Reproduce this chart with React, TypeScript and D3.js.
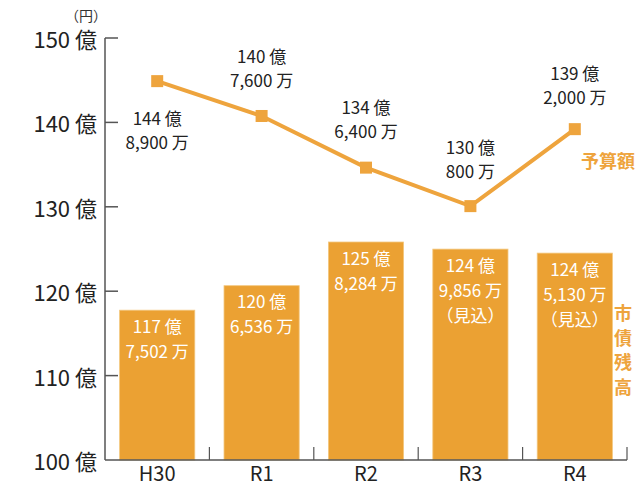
import React from 'react';
import * as d3 from 'd3';

// 年度
const categories = ['H30', 'R1', 'R2', 'R3', 'R4'];
// 市債残高（億円）
const debtValues = [117.7502, 120.6536, 125.8284, 124.9856, 124.513];
const debtLabels = [
  ['117 億', '7,502 万'],
  ['120 億', '6,536 万'],
  ['125 億', '8,284 万'],
  ['124 億', '9,856 万', '（見込）'],
  ['124 億', '5,130 万', '（見込）'],
];
// 予算額（億円）
const budgetValues = [144.89, 140.76, 134.64, 130.08, 139.2];
const budgetLabels = [
  ['144 億', '8,900 万'],
  ['140 億', '7,600 万'],
  ['134 億', '6,400 万'],
  ['130 億', '800 万'],
  ['139 億', '2,000 万'],
];
const yTicks = [100, 110, 120, 130, 140, 150];

const W = 640;
const H = 486;
const ORANGE = '#EBA133';
const LINE = '#EEA43D';
const AXIS = '#555';
const FONT = '"Noto Sans CJK JP", "Noto Sans", sans-serif';

export default function App() {
  const x = d3.scaleBand<string>().domain(categories).range([105, 627]).paddingInner(0.28).paddingOuter(0.14);
  const y = d3.scaleLinear().domain([100, 150]).range([460, 38]);
  const cx = (c: string) => (x(c) ?? 0) + x.bandwidth() / 2;

  const line = d3
    .line<number>()
    .x((_, i) => cx(categories[i]))
    .y(d => y(d));

  // vertical offset of the first budget label line from its point
  const labelShift = [36, -60, -61, -60, -57];
  const bounds = d3.range(1, categories.length).map(i => 105 + (522 / categories.length) * i);

  return (
    <div style={{ position: 'absolute', left: 0, top: 0 }}>
      <svg width={W} height={H} style={{ display: 'block', background: '#fff', fontFamily: FONT }}>
        {/* bars */}
        {categories.map((c, i) => (
          <rect
            key={c}
            x={x(c)}
            y={y(debtValues[i])}
            width={x.bandwidth()}
            height={y(100) - y(debtValues[i])}
            fill={ORANGE}
            stroke="#F3C77E"
            strokeWidth={0.8}
          />
        ))}
        {categories.map((c, i) =>
          debtLabels[i].map((t, j) => (
            <text
              key={c + j}
              x={cx(c)}
              y={y(debtValues[i]) + 15 + j * 25}
              fill="#fff"
              fontSize={17}
              textAnchor="middle"
              dominantBaseline="central"
            >
              {t}
            </text>
          ))
        )}

        {/* axes */}
        <line x1={105} x2={105} y1={y(150)} y2={y(100)} stroke={AXIS} strokeWidth={1.5} />
        <line x1={105} x2={627} y1={y(100)} y2={y(100)} stroke={AXIS} strokeWidth={1.5} />
        {yTicks.map(t => (
          <g key={t}>
            {t > 100 && <line x1={105} x2={118} y1={y(t)} y2={y(t)} stroke={AXIS} strokeWidth={1.5} />}
            <text x={97} y={y(t)} fontSize={22} fill="#222" textAnchor="end" dominantBaseline="central">
              {t} 億
            </text>
          </g>
        ))}
        {bounds.map(b => (
          <line key={b} x1={b} x2={b} y1={y(100)} y2={y(100) - 13} stroke={AXIS} strokeWidth={1.2} />
        ))}
        <line x1={627} x2={627} y1={y(100)} y2={y(100) - 13} stroke={AXIS} strokeWidth={1.2} />
        {categories.map(c => (
          <text key={c} x={cx(c)} y={472} fontSize={20} fill="#222" textAnchor="middle" dominantBaseline="central">
            {c}
          </text>
        ))}
        <text x={86} y={15} fontSize={14} fill="#333" textAnchor="middle" dominantBaseline="central">
          （円）
        </text>

        {/* budget line */}
        <path d={line(budgetValues) ?? ''} fill="none" stroke={LINE} strokeWidth={4} />
        {categories.map((c, i) => (
          <rect key={c} x={cx(c) - 6} y={y(budgetValues[i]) - 6} width={12} height={12} fill={LINE} />
        ))}
        {categories.map((c, i) =>
          budgetLabels[i].map((t, j) => (
            <text
              key={c + j}
              x={cx(c)}
              y={y(budgetValues[i]) + labelShift[i] + j * 24}
              fill="#222"
              fontSize={17}
              textAnchor="middle"
              dominantBaseline="central"
            >
              {t}
            </text>
          ))
        )}

        {/* legends */}
        <text x={608} y={160} fill={LINE} fontSize={18} fontWeight="bold" textAnchor="middle" dominantBaseline="central">
          予算額
        </text>
        {['市', '債', '残', '高'].map((ch, i) => (
          <text
            key={ch}
            x={623}
            y={312 + i * 24.5}
            fill={LINE}
            fontSize={18}
            fontWeight="bold"
            textAnchor="middle"
            dominantBaseline="central"
          >
            {ch}
          </text>
        ))}
      </svg>
    </div>
  );
}
